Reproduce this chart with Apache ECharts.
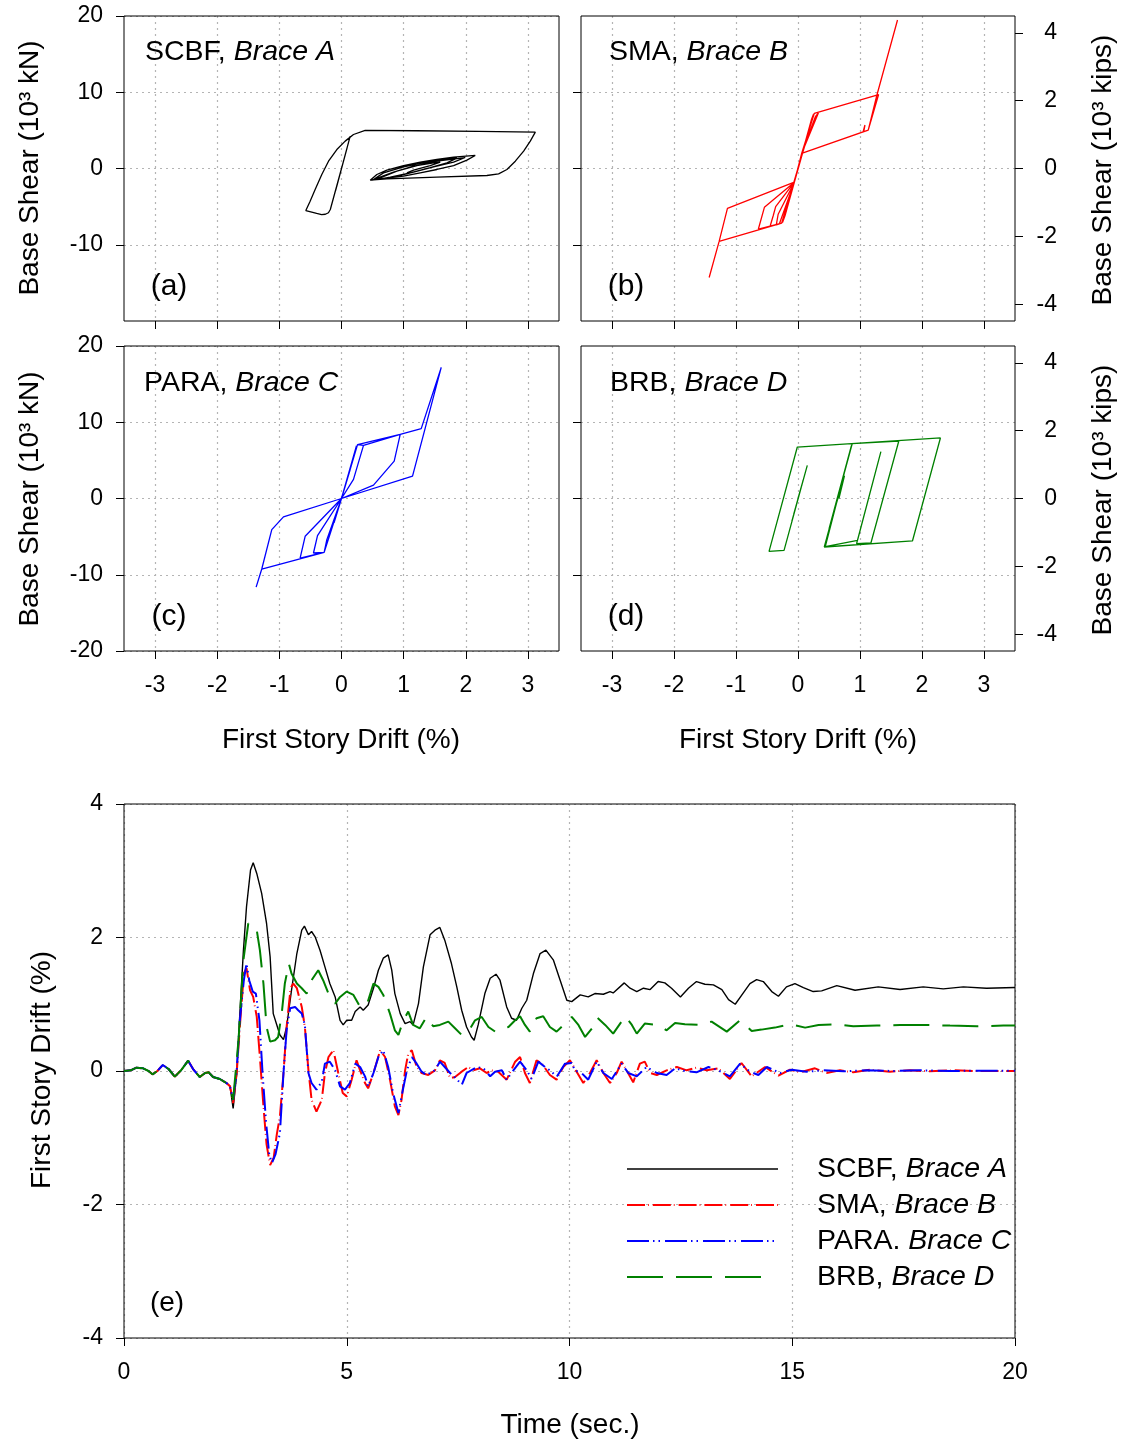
<!DOCTYPE html>
<html><head><meta charset="utf-8">
<script src="https://cdn.jsdelivr.net/npm/echarts@6/dist/echarts.min.js"></script>
<style>html,body{margin:0;padding:0;background:#fff}#c{width:1121px;height:1442px}</style>
</head><body><div id="c"></div>
<script>
// ---------- tick values ----------
const driftTicks = [-3, -2, -1, 0, 1, 2, 3];
const shearTicksA = [-10, 0, 10, 20];
const shearTicksC = [-20, -10, 0, 10, 20];
const shearTicksInner = [-10, 0, 10];
const kipsTicks = [-4, -2, 0, 2, 4];

// ---------- hysteresis loops: [drift %, base shear 10^3 kN] ----------
const scbfLoop = [[0,0],[0.05,1.5],[-0.05,-1.5],[0.09,2.7],[-0.085,-2.6],[0.14,4.25],[-0.095,-2.9],[0,0],[-0.18,-5.38],[-0.21,-5.8],[-0.26,-6.0],[-0.32,-6.04],[-0.40,-5.9],[-0.574,-5.51],[-0.505,-4.29],[-0.424,-2.76],[-0.317,-0.79],[-0.209,0.96],[-0.075,2.49],[0.059,3.59],[0.193,4.46],[0.381,4.99],[1.2,4.95],[2.2,4.87],[3.119,4.77],[3.038,3.59],[2.931,2.28],[2.797,0.96],[2.662,-0.13],[2.528,-0.70],[2.34,-0.92],[1.535,-1.14],[0.73,-1.36],[0.462,-1.53],[0.569,-0.79],[0.73,-0.22],[0.998,0.39],[1.267,0.83],[1.535,1.18],[1.804,1.49],[2.152,1.71],[2.018,1.09],[1.804,0.39],[1.535,-0.13],[1.267,-0.57],[0.998,-1.01],[0.623,-1.36],[0.515,-1.44],[0.676,-0.57],[0.998,0.22],[1.374,0.83],[1.75,1.31],[1.857,1.36],[1.696,0.74],[1.428,0.13],[1.106,-0.57],[0.784,-1.14],[0.542,-1.49],[0.891,-0.35],[1.213,0.39],[1.535,0.96],[1.991,1.44],[1.804,0.83],[1.482,0.22],[1.159,-0.48],[0.784,-1.22],[0.489,-1.53],[0.837,-0.48],[1.159,0.30],[1.482,0.74],[1.589,0.83],[1.428,0.39],[1.159,-0.22],[1.052,-0.57]];

const smaLoop = [[0,0],[0.07,2.0],[-0.07,-1.9],[0.11,3.0],[-0.12,-3.3],[0.05,1.4],[-0.263,-7.15],[-0.451,-7.6],[-0.40,-6.2],[-0.36,-5.0],[-0.059,-1.8],[0.059,1.97],[0.263,7.24],[1.272,9.61],[1.605,19.47],[1.272,9.61],[1.133,5.04],[1.05,4.80],[1.08,5.7],[1.10,5.8],[1.06,4.85],[0.059,1.97],[-0.059,-1.8],[-0.263,-7.15],[-1.272,-9.56],[-1.433,-14.3],[-1.272,-9.56],[-1.138,-5.22],[-0.059,-1.8],[0.059,1.97],[0.263,7.24],[1.30,9.7],[1.133,5.04],[0.059,1.97],[-0.059,-1.8],[-0.263,-7.15],[-0.639,-7.94],[-0.542,-5.09],[-0.059,-1.8],[0.059,1.97],[0.33,7.3],[0.28,6.8],[0.059,1.97],[-0.059,-1.8],[-0.30,-7.25],[-0.35,-7.4],[-0.32,-6.0],[-0.059,-1.8],[-0.25,-7.1],[-0.21,-6.2],[-0.059,-1.8],[0.25,7.1],[0.22,6.5],[0,0]];

const paraLoop = [[0,0],[0.10,2.7],[-0.10,-2.6],[0.14,3.8],[-0.12,-3.2],[0,0],[-0.279,-7.06],[-0.451,-7.15],[-0.386,-4.87],[0,0],[0.258,7.06],[0.354,6.97],[0.945,8.42],[1.283,9.17],[1.605,17.19],[1.143,2.94],[0,0],[-0.279,-7.06],[-1.283,-9.25],[-1.374,-11.62],[-1.283,-9.25],[-1.122,-4.08],[-0.934,-2.41],[0,0],[0.258,7.06],[0.945,8.42],[0.848,4.91],[0.515,1.75],[0,0],[-0.279,-7.06],[-0.666,-7.81],[-0.585,-4.96],[0,0],[0.258,7.06],[0.354,6.97],[0.193,2.5],[0,0],[-0.279,-7.06],[-0.311,-7.02],[-0.236,-5.39],[0,0],[0.24,6.9],[0.21,5.8],[0,0]];

const brbLoop = [[0,0],[0.08,2.3],[-0.07,-2.1],[0.15,4.34],[-0.10,-3.0],[0.05,1.4],[-0.225,-6.8],[-0.467,-6.93],[-0.011,6.75],[2.297,7.94],[1.846,-5.57],[0.424,-6.36],[0.875,7.19],[1.626,7.54],[1.176,-5.83],[0.945,-5.92],[1.337,6.14],[0.96,-5.5],[0.44,-6.3],[0.86,6.9],[0.50,-4.0],[0.75,3.0],[0.66,0]];

// ---------- time histories: [time s, first story drift %] ----------
const earlyMotion = [[0,0],[0.15,0.01],[0.28,0.05],[0.43,0.04],[0.55,0.0],[0.64,-0.05],[0.75,0.0],[0.87,0.09],[1.0,0.03],[1.14,-0.085],[1.28,0.01],[1.44,0.155],[1.56,0.02],[1.7,-0.09],[1.82,-0.03],[1.9,-0.02],[2.0,-0.09],[2.15,-0.12],[2.3,-0.18],[2.38,-0.23]];

const scbfDrift = [[2.45,-0.56],[2.53,-0.04],[2.6,0.86],[2.68,1.8],[2.75,2.46],[2.84,3.01],[2.9,3.12],[2.98,2.96],[3.09,2.66],[3.2,2.21],[3.28,1.71],[3.35,0.86],[3.43,0.69],[3.5,0.54],[3.58,0.47],[3.65,0.66],[3.76,1.21],[3.88,1.76],[3.99,2.11],[4.05,2.17],[4.14,2.04],[4.21,2.09],[4.29,2.01],[4.4,1.81],[4.51,1.56],[4.62,1.31],[4.74,1.11],[4.85,0.76],[4.92,0.69],[5.0,0.76],[5.11,0.76],[5.19,0.89],[5.3,0.96],[5.37,0.91],[5.48,0.99],[5.6,1.24],[5.71,1.51],[5.82,1.69],[5.93,1.74],[6.01,1.51],[6.08,1.16],[6.2,0.86],[6.31,0.71],[6.42,0.74],[6.49,0.69],[6.61,1.01],[6.72,1.56],[6.87,2.04],[6.98,2.11],[7.09,2.15],[7.2,1.96],[7.35,1.61],[7.47,1.26],[7.58,0.91],[7.69,0.66],[7.8,0.51],[7.86,0.46],[7.95,0.69],[8.1,1.16],[8.22,1.39],[8.35,1.45],[8.44,1.36],[8.59,0.96],[8.7,0.79],[8.81,0.76],[8.93,0.94],[9.04,1.06],[9.19,1.46],[9.34,1.76],[9.47,1.81],[9.64,1.66],[9.79,1.36],[9.94,1.06],[10.05,1.04],[10.24,1.14],[10.42,1.11],[10.57,1.16],[10.76,1.15],[10.91,1.19],[10.98,1.17],[11.23,1.32],[11.36,1.24],[11.51,1.19],[11.66,1.24],[11.81,1.22],[11.99,1.34],[12.14,1.32],[12.29,1.24],[12.49,1.11],[12.67,1.24],[12.85,1.34],[13.04,1.30],[13.23,1.29],[13.42,1.22],[13.57,1.07],[13.72,1.0],[13.87,1.14],[14.05,1.31],[14.2,1.37],[14.35,1.34],[14.54,1.19],[14.69,1.12],[14.87,1.26],[15.06,1.31],[15.25,1.25],[15.47,1.19],[15.66,1.2],[16.0,1.28],[16.41,1.21],[16.93,1.26],[17.42,1.22],[17.94,1.26],[18.39,1.23],[18.84,1.26],[19.36,1.24],[20,1.25]];

const smaDrift = [[2.45,-0.48],[2.53,-0.03],[2.6,0.66],[2.69,1.46],[2.75,1.54],[2.83,1.21],[2.9,1.11],[2.98,0.81],[3.05,0.21],[3.13,-0.53],[3.2,-1.1],[3.28,-1.41],[3.36,-1.3],[3.43,-0.95],[3.5,-0.68],[3.58,-0.03],[3.65,0.66],[3.74,1.24],[3.8,1.31],[3.88,1.24],[3.99,0.96],[4.06,0.66],[4.14,0.01],[4.21,-0.43],[4.32,-0.61],[4.44,-0.43],[4.51,-0.03],[4.59,0.21],[4.7,0.31],[4.81,-0.03],[4.91,-0.33],[5.0,-0.38],[5.11,-0.13],[5.22,0.16],[5.3,0.01],[5.41,-0.18],[5.48,-0.26],[5.6,-0.03],[5.75,0.31],[5.86,0.21],[5.97,-0.13],[6.08,-0.53],[6.16,-0.66],[6.23,-0.43],[6.31,0.01],[6.38,0.26],[6.46,0.31],[6.57,0.06],[6.68,-0.03],[6.83,-0.06],[6.98,0.01],[7.09,0.16],[7.2,0.12],[7.32,-0.11],[7.43,-0.09],[7.58,-0.01],[7.73,0.06],[7.84,0.01],[7.99,0.04],[8.14,-0.03],[8.25,0.01],[8.4,-0.01],[8.59,-0.13],[8.78,0.14],[8.89,0.21],[9.0,-0.03],[9.11,-0.18],[9.26,0.16],[9.38,0.11],[9.56,-0.06],[9.71,-0.13],[9.86,0.06],[10.01,0.16],[10.16,-0.01],[10.31,-0.18],[10.46,-0.03],[10.61,0.16],[10.76,-0.03],[10.91,-0.18],[11.06,-0.03],[11.17,0.14],[11.28,0.01],[11.43,-0.17],[11.58,0.11],[11.69,0.14],[11.81,-0.03],[11.96,-0.06],[12.18,0.01],[12.41,0.06],[12.63,0.01],[12.85,0.05],[13.08,0.01],[13.34,0.04],[13.6,-0.12],[13.86,0.12],[14.09,-0.08],[14.39,0.06],[14.69,-0.07],[14.95,0.02],[15.17,-0.02],[15.51,0.04],[15.77,-0.03],[16.07,0.01],[16.37,-0.02],[16.75,0.02],[17.19,-0.01],[17.64,0.01],[18.09,-0.005],[18.62,0.01],[19.14,0.0],[20,0.0]];

const paraDrift = [[2.45,-0.43],[2.53,0.01],[2.6,0.76],[2.69,1.36],[2.75,1.61],[2.81,1.36],[2.89,1.19],[2.96,1.16],[3.04,0.76],[3.11,-0.03],[3.19,-0.78],[3.26,-1.25],[3.32,-1.38],[3.4,-1.25],[3.5,-0.93],[3.58,-0.03],[3.65,0.61],[3.73,0.94],[3.84,0.96],[3.91,0.91],[3.99,0.86],[4.06,0.69],[4.14,-0.03],[4.21,-0.18],[4.32,-0.28],[4.44,-0.16],[4.51,0.11],[4.62,0.14],[4.74,0.01],[4.85,-0.23],[4.96,-0.28],[5.07,-0.18],[5.19,0.11],[5.3,0.06],[5.41,-0.08],[5.48,-0.23],[5.6,-0.03],[5.71,0.21],[5.82,0.31],[5.93,0.06],[6.04,-0.33],[6.16,-0.63],[6.26,-0.28],[6.35,0.01],[6.46,0.21],[6.57,0.11],[6.68,-0.01],[6.79,-0.06],[6.98,0.01],[7.09,0.14],[7.2,0.06],[7.32,-0.03],[7.47,-0.12],[7.58,-0.21],[7.69,-0.03],[7.92,0.06],[8.07,0.04],[8.22,-0.08],[8.33,-0.01],[8.48,0.01],[8.59,-0.13],[8.74,0.01],[8.89,0.14],[9.04,0.01],[9.15,-0.12],[9.3,0.14],[9.45,0.06],[9.6,-0.01],[9.71,-0.09],[9.9,0.11],[10.05,0.12],[10.12,0.01],[10.27,-0.03],[10.42,-0.13],[10.61,0.14],[10.76,-0.03],[10.95,-0.12],[11.17,0.11],[11.32,-0.03],[11.51,-0.08],[11.73,0.06],[11.96,-0.03],[12.18,-0.06],[12.37,0.04],[12.59,0.0],[12.85,-0.02],[13.12,0.06],[13.34,0.01],[13.6,-0.08],[13.83,0.11],[14.05,-0.01],[14.24,-0.06],[14.43,0.06],[14.73,-0.03],[14.99,0.02],[15.32,-0.01],[15.7,0.01],[16.15,-0.005],[16.67,0.01],[17.27,0.0],[17.87,0.01],[18.54,0.0],[19.21,0.005],[20,0.005]];

const brbDrift = [[2.45,-0.43],[2.57,0.46],[2.68,1.66],[2.79,2.21],[2.9,2.19],[2.98,2.11],[3.05,1.81],[3.13,1.31],[3.2,0.66],[3.28,0.44],[3.39,0.46],[3.46,0.51],[3.54,0.86],[3.61,1.31],[3.7,1.61],[3.76,1.46],[3.88,1.31],[3.99,1.24],[4.1,1.16],[4.21,1.36],[4.36,1.51],[4.47,1.36],[4.59,1.16],[4.74,1.01],[4.85,1.11],[5.0,1.19],[5.15,1.14],[5.3,0.96],[5.45,0.99],[5.6,1.31],[5.71,1.26],[5.82,1.14],[5.97,0.86],[6.08,0.61],[6.16,0.54],[6.27,0.76],[6.38,0.89],[6.49,0.69],[6.64,0.64],[6.79,0.81],[6.94,0.67],[7.09,0.69],[7.28,0.74],[7.43,0.64],[7.58,0.54],[7.73,0.59],[7.88,0.76],[8.03,0.81],[8.18,0.66],[8.33,0.59],[8.63,0.66],[8.78,0.76],[8.89,0.82],[9.0,0.69],[9.11,0.59],[9.26,0.79],[9.41,0.82],[9.56,0.66],[9.71,0.59],[9.9,0.71],[10.05,0.81],[10.2,0.69],[10.35,0.51],[10.53,0.66],[10.62,0.80],[10.8,0.69],[10.98,0.56],[11.25,0.82],[11.4,0.69],[11.51,0.56],[11.69,0.71],[11.99,0.69],[12.18,0.61],[12.37,0.72],[12.59,0.70],[12.93,0.69],[13.19,0.74],[13.53,0.59],[13.83,0.76],[14.09,0.60],[14.31,0.62],[14.61,0.65],[14.95,0.70],[15.29,0.65],[15.59,0.69],[16.0,0.70],[16.37,0.67],[16.9,0.68],[17.42,0.69],[18.02,0.69],[18.54,0.68],[19.14,0.67],[19.74,0.68],[20,0.68]];

// ---------- labels ----------
const names = ['SCBF', 'SMA', 'PARA', 'BRB'];
const braces = ['Brace A', 'Brace B', 'Brace C', 'Brace D'];
const legendNames = ['SCBF, ', 'SMA, ', 'PARA. ', 'BRB, '];
const panelTags = ['(a)', '(b)', '(c)', '(d)', '(e)'];
const KIP = 4.44822;

// ---------- styling ----------
const F = '"Liberation Sans", Arial, Helvetica, sans-serif';
const colors = ['#000000', '#ff0000', '#0000ff', '#008000'];
const dashes = ['solid', [18, 3, 0.8, 4], [22, 4, 1.5, 4, 1.5, 5], [36, 13]];
const gridLine = {show: true, lineStyle: {color: '#b4b4b4', type: [2, 4], width: 1.2}};
const tickStyle = {color: '#000', width: 1};
const TICK_FS = 23;

const grids = [
  {left: 124, top: 16, width: 435, height: 305},
  {left: 581, top: 16, width: 434, height: 305},
  {left: 124, top: 346, width: 435, height: 305},
  {left: 581, top: 346, width: 434, height: 305},
  {left: 124, top: 804, width: 891, height: 534}
].map(g => Object.assign(g, {show: true, borderColor: '#000', borderWidth: 1, z: 1, containLabel: false}));

const xAxis = [0, 1, 2, 3].map(i => ({
  gridIndex: i, type: 'value', min: -3.5, max: 3.5, splitNumber: 7, position: 'bottom',
  axisLine: {show: false, onZero: false},
  axisTick: {show: true, length: 8, customValues: driftTicks, lineStyle: tickStyle},
  axisLabel: {show: i >= 2, customValues: driftTicks,
              color: '#000', fontSize: TICK_FS, fontFamily: F, margin: 23},
  splitLine: gridLine
}));
xAxis.push({
  gridIndex: 4, type: 'value', min: 0, max: 20, interval: 5, position: 'bottom',
  axisLine: {show: false, onZero: false},
  axisTick: {show: true, length: 8, lineStyle: tickStyle},
  axisLabel: {color: '#000', fontSize: TICK_FS, fontFamily: F, margin: 23},
  splitLine: gridLine
});

function shearAxis(grid, ticks, labels) {
  return {
    gridIndex: grid, type: 'value', min: -20, max: 20, splitNumber: 4, position: 'left',
    axisLine: {show: false, onZero: false},
    axisTick: {show: true, length: 8, customValues: ticks, lineStyle: tickStyle},
    axisLabel: {show: labels, customValues: ticks, color: '#000', fontSize: TICK_FS, fontFamily: F, margin: 21},
    splitLine: gridLine
  };
}
function kipsAxis(grid) {
  return {
    gridIndex: grid, type: 'value', min: -20 / KIP, max: 20 / KIP, splitNumber: 4, position: 'right',
    axisLine: {show: false, onZero: false},
    axisTick: {show: true, length: 8, customValues: kipsTicks, lineStyle: tickStyle},
    axisLabel: {show: true, customValues: kipsTicks,
                color: '#000', fontSize: TICK_FS, fontFamily: F, margin: 42, align: 'right'},
    splitLine: {show: false}
  };
}
const yAxis = [
  shearAxis(0, shearTicksA, true),
  shearAxis(1, shearTicksInner, false),
  kipsAxis(1),
  shearAxis(2, shearTicksC, true),
  shearAxis(3, shearTicksInner, false),
  kipsAxis(3),
  {
    gridIndex: 4, type: 'value', min: -4, max: 4, interval: 2, position: 'left',
    axisLine: {show: false, onZero: false},
    axisTick: {show: true, length: 8, lineStyle: tickStyle},
    axisLabel: {color: '#000', fontSize: TICK_FS, fontFamily: F, margin: 21},
    splitLine: gridLine
  }
];

const loops = [scbfLoop, smaLoop, paraLoop, brbLoop];
const loopAxes = [[0, 0], [1, 1], [2, 3], [3, 4]];
const series = loops.map((d, i) => ({
  type: 'line', name: names[i] + ' loop', data: d, xAxisIndex: loopAxes[i][0], yAxisIndex: loopAxes[i][1],
  showSymbol: false, symbol: 'none', clip: true, z: 3,
  lineStyle: {color: colors[i], width: 1.3}
}));
const histories = [scbfDrift, smaDrift, paraDrift, brbDrift];
histories.forEach((d, i) => {
  series.push({
    type: 'line', name: names[i], data: earlyMotion.concat(d), xAxisIndex: 4, yAxisIndex: 6,
    showSymbol: false, symbol: 'none', clip: true, z: 3 + i,
    lineStyle: {color: colors[i], width: i === 0 ? 1.4 : 2, type: dashes[i]}
  });
});

function rt(x, y, a, b, size, align) {
  return {
    type: 'text', x: x, y: y, z: 10,
    style: {
      text: '{n|' + a + '}{i|' + b + '}',
      align: align || 'left', verticalAlign: 'middle',
      textAlign: align || 'left', textVerticalAlign: 'middle',
      rich: {
        n: {fontSize: size, fontFamily: F, fill: '#000', color: '#000'},
        i: {fontSize: size, fontFamily: F, fontStyle: 'italic', fill: '#000', color: '#000'}
      }
    }
  };
}
function tx(x, y, s, size, rot) {
  return {
    type: 'text', x: x, y: y, rotation: rot || 0, z: 10,
    style: {text: s, fontSize: size, fontFamily: F, fill: '#000',
            align: 'center', verticalAlign: 'middle', textAlign: 'center', textVerticalAlign: 'middle'}
  };
}
const T = 28;
const graphic = [
  rt(145, 52, names[0] + ', ', braces[0], 28.5),
  rt(609, 52, names[1] + ', ', braces[1], 28.5),
  rt(144, 383, names[2] + ', ', braces[2], 28.5),
  rt(610, 383, names[3] + ', ', braces[3], 28.5),
  tx(169, 287, panelTags[0], 30), tx(626, 287, panelTags[1], 30),
  tx(169, 617, panelTags[2], 30), tx(626, 617, panelTags[3], 30),
  tx(167, 1303, panelTags[4], 28),
  tx(30, 168, 'Base Shear (10³ kN)', T, Math.PI / 2),
  tx(30, 499, 'Base Shear (10³ kN)', T, Math.PI / 2),
  tx(1103, 170, 'Base Shear (10³ kips)', T, Math.PI / 2),
  tx(1103, 500, 'Base Shear (10³ kips)', T, Math.PI / 2),
  tx(341, 740, 'First Story Drift (%)', T),
  tx(798, 740, 'First Story Drift (%)', T),
  tx(42, 1070, 'First Story Drift (%)', T, Math.PI / 2),
  tx(570, 1425, 'Time (sec.)', T)
];
const legendY = [1169, 1205, 1241, 1277];
legendY.forEach((y, i) => {
  graphic.push({
    type: 'line', z: 10,
    shape: {x1: 627, y1: y, x2: i === 3 ? 770 : 778, y2: y},
    style: {stroke: colors[i], lineWidth: i === 0 ? 1.4 : 2, lineDash: dashes[i] === 'solid' ? null : dashes[i]}
  });
  graphic.push(rt(817, y, legendNames[i], braces[i], 28.5));
});

const chart = echarts.init(document.getElementById('c'), null, {renderer: 'canvas'});
chart.setOption({
  backgroundColor: '#fff',
  animation: false,
  grid: grids,
  xAxis: xAxis,
  yAxis: yAxis,
  series: series,
  graphic: graphic
});
</script></body></html>
